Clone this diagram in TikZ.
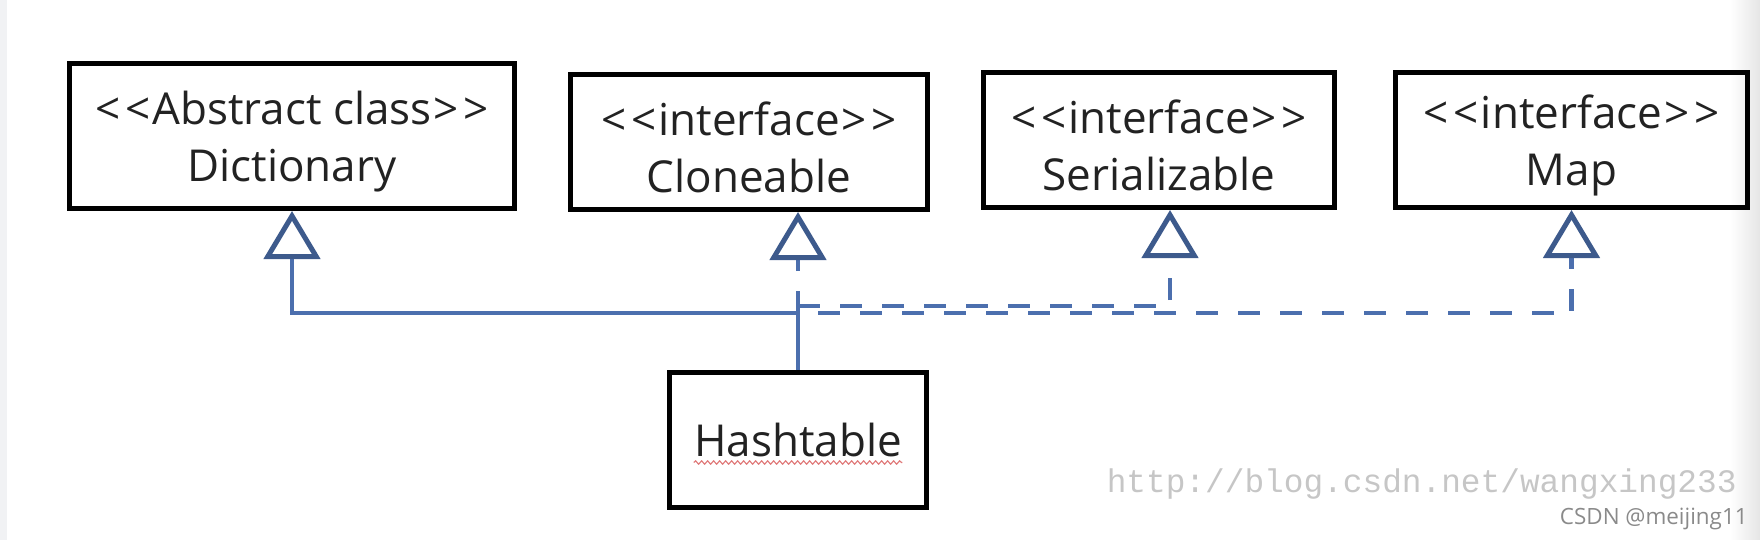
\documentclass[tikz,border=0pt]{standalone}
\usepackage{fontspec}
\setmainfont{Open Sans}
\newfontfamily\urlfont{Liberation Mono}
\usetikzlibrary{arrows.meta,positioning,decorations.pathmorphing}
\definecolor{umlink}{HTML}{222222}
\definecolor{umlline}{HTML}{4C6FAE}
\definecolor{umltip}{HTML}{3D5A8C}
\definecolor{umlmark}{HTML}{C6C6C6}
\definecolor{umlsign}{HTML}{8A8A8A}
\definecolor{umlstrip}{HTML}{F1F2F4}
\definecolor{umlwave}{HTML}{E07A7A}
\newcommand{\stereo}[1]{\rule{0pt}{22pt}<\kern2.5pt<\kern1pt#1\kern1pt>\kern2.5pt>}

\begin{document}
\begin{tikzpicture}[x=0.5pt, y=-0.5pt,
  classbox/.style={draw=black, line width=2.5pt, rectangle, align=center, text=umlink,
    font=\fontsize{22}{28.5}\selectfont, inner sep=0pt},
  link/.style={draw=umlline, line width=2.4pt},
  realize/.style={link, dash pattern=on 11pt off 10pt},
  extends/.style={-{Triangle[open, length=24pt, width=28pt, line width=2.5pt, color=umltip]}}]
  \useasboundingbox (0,0) rectangle (1760,540);
  \fill[umlstrip] (0,0) rectangle (7,540);
  \shade[left color=white, right color=black!10] (1730,0) rectangle (1760,540);
  % parent class and interfaces
  \node[classbox, minimum width=222.5pt, minimum height=72.5pt] (dict) at (292,136)
    {\stereo{Abstract class}\\Dictionary};
  \foreach \name/\x/\y/\w/\txt in {clone/749/142/178.5/Cloneable, ser/1159/140/175.5/Serializable, map/1571.5/140/176/Map}
    \node[classbox, minimum width=\w pt, minimum height=67.5pt] (\name) at (\x,\y)
      {\stereo{interface}\\\txt};
  % the class itself
  \node[classbox, minimum width=128.5pt, minimum height=67.5pt] (hash) at (798,440) {};
  \node[font=\fontsize{22}{26}\selectfont, text=umlink, inner sep=0pt] (hashname) at (hash.center) {Hashtable};
  \draw[umlwave, line width=0.6pt, decorate, decoration={snake, amplitude=0.8pt, segment length=3pt}]
    ([yshift=-3pt]hashname.base west) -- ([yshift=-3pt]hashname.base east);
  % connectors
  \coordinate (join) at (798,313);
  \coordinate (sjoin) at (798,306);
  \draw[link, extends] (hash.north) -- (join) -| (dict.south);
  \draw[realize, extends] (join) -- (join |- clone.south);
  \draw[realize, extends] (sjoin) -| ([xshift=5.5pt]ser.south);
  \draw[realize, extends, dash phase=11pt] (join) -| (map.south);
  % watermarks
  \node[font=\urlfont\fontsize{16.4}{18}\selectfont, text=umlmark, anchor=base east, inner sep=0pt] (mark) at (1737,492)
    {http://blog.csdn.net/wangxing233};
  \node[font=\fontsize{11.2}{13}\selectfont, text=umlsign, anchor=base east, inner sep=0pt] (sign) at (1748,524)
    {CSDN @meijing11};
\end{tikzpicture}
\end{document}
